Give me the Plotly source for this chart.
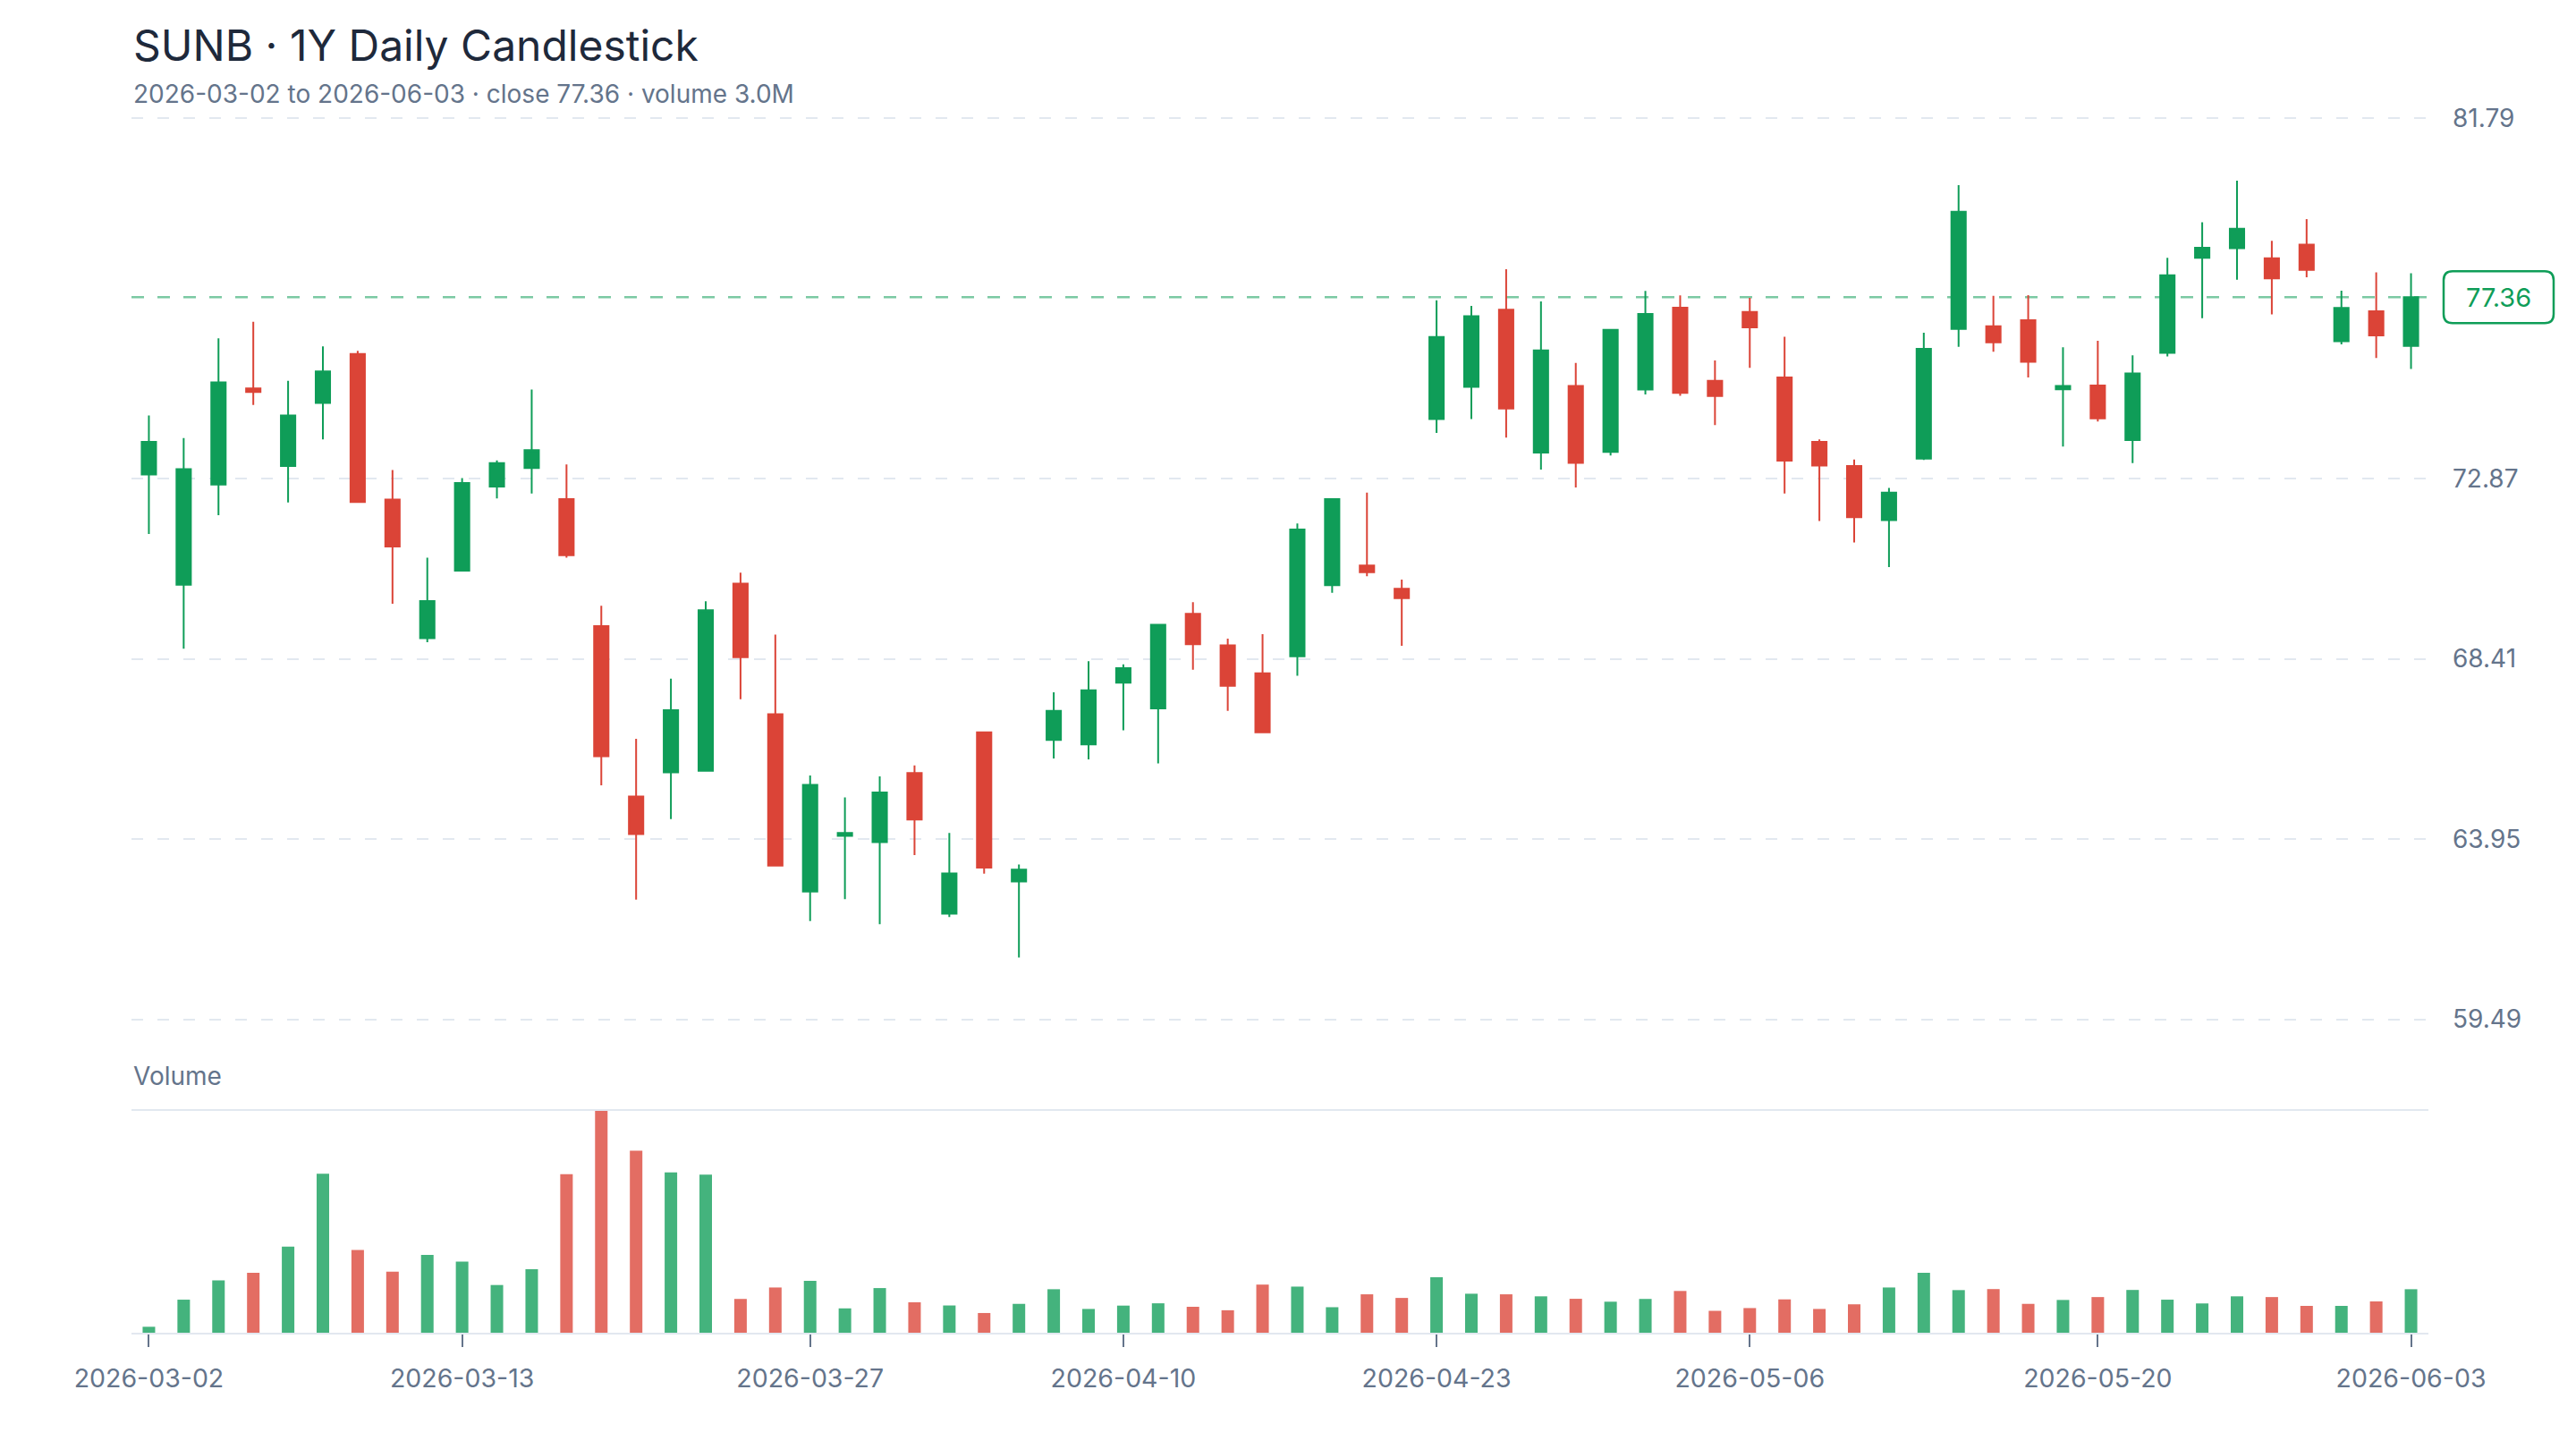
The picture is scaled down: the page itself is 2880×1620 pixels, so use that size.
import plotly.graph_objects as go

# ---------------- data ----------------
dates = [
    "2026-03-02", "2026-03-03", "2026-03-04", "2026-03-05", "2026-03-06",
    "2026-03-09", "2026-03-10", "2026-03-11", "2026-03-12", "2026-03-13",
    "2026-03-16", "2026-03-17", "2026-03-18", "2026-03-19", "2026-03-20",
    "2026-03-23", "2026-03-24", "2026-03-25", "2026-03-26", "2026-03-27",
    "2026-03-30", "2026-03-31", "2026-04-01", "2026-04-02",
    "2026-04-06", "2026-04-07", "2026-04-08", "2026-04-09", "2026-04-10",
    "2026-04-13", "2026-04-14", "2026-04-15", "2026-04-16", "2026-04-17",
    "2026-04-20", "2026-04-21", "2026-04-22", "2026-04-23", "2026-04-24",
    "2026-04-27", "2026-04-28", "2026-04-29", "2026-04-30", "2026-05-01",
    "2026-05-04", "2026-05-05", "2026-05-06", "2026-05-07", "2026-05-08",
    "2026-05-11", "2026-05-12", "2026-05-13", "2026-05-14", "2026-05-15",
    "2026-05-18", "2026-05-19", "2026-05-20", "2026-05-21", "2026-05-22",
    "2026-05-26", "2026-05-27", "2026-05-28", "2026-05-29",
    "2026-06-01", "2026-06-02", "2026-06-03",
]

opens = [
    72.97, 70.24, 72.72, 75.10, 73.18, 74.74, 75.95, 72.35, 68.92, 70.59,
    72.67, 73.13, 72.36, 69.22, 65.00, 65.60, 65.64, 70.27, 67.04, 62.65,
    64.03, 63.87, 65.58, 62.10, 66.59, 62.90, 66.40, 66.29, 67.82, 67.18,
    69.52, 68.74, 68.05, 68.47, 70.23, 70.72, 70.14, 74.34, 75.14, 77.05,
    73.51, 75.16, 73.53, 75.07, 77.10, 75.29, 76.99, 75.37, 73.78, 73.18,
    71.84, 73.36, 76.57, 76.64, 76.79, 75.08, 75.17, 73.82, 75.98, 78.33,
    78.57, 78.32, 78.66, 76.27, 77.01, 76.15,
]
highs = [
    74.43, 73.87, 76.34, 76.75, 75.29, 76.14, 76.03, 73.08, 70.91, 72.88,
    73.32, 75.07, 73.22, 69.72, 66.43, 67.92, 69.83, 70.54, 69.01, 65.52,
    64.98, 65.50, 65.77, 64.10, 66.60, 63.32, 67.58, 68.35, 68.27, 69.25,
    69.81, 68.91, 69.02, 71.76, 72.37, 72.52, 70.37, 77.28, 77.14, 78.05,
    77.25, 75.73, 76.57, 77.51, 77.40, 75.79, 77.34, 76.38, 73.84, 73.34,
    72.64, 76.48, 80.13, 77.39, 77.41, 76.12, 76.28, 75.92, 78.33, 79.21,
    80.24, 78.75, 79.29, 77.52, 77.97, 77.95,
]
lows = [
    71.50, 68.66, 71.96, 74.69, 72.28, 73.84, 72.27, 69.77, 68.82, 70.58,
    72.38, 72.50, 70.91, 65.28, 62.45, 64.44, 65.64, 67.41, 63.28, 61.92,
    62.46, 61.84, 63.55, 62.02, 63.09, 61.02, 65.94, 65.92, 66.64, 65.82,
    68.14, 67.12, 66.59, 67.99, 70.04, 70.45, 68.73, 74.00, 74.34, 73.88,
    73.09, 72.65, 73.44, 74.95, 74.92, 74.19, 75.61, 72.50, 71.82, 71.29,
    70.68, 73.33, 76.13, 76.01, 75.37, 73.66, 74.28, 73.25, 75.89, 76.84,
    77.79, 76.93, 77.85, 76.19, 75.85, 75.58,
]
closes = [
    73.78, 73.10, 75.25, 75.01, 74.43, 75.52, 72.29, 71.19, 69.84, 72.76,
    73.25, 73.57, 70.97, 66.00, 64.07, 67.14, 69.61, 68.45, 63.29, 65.29,
    64.10, 65.10, 64.43, 63.10, 63.24, 63.19, 67.12, 67.63, 68.18, 69.25,
    68.77, 67.74, 66.59, 71.61, 72.36, 70.55, 69.91, 76.37, 76.89, 74.60,
    76.04, 73.26, 76.55, 76.94, 74.99, 74.91, 76.61, 73.31, 73.19, 71.91,
    72.52, 76.08, 79.47, 76.24, 75.76, 75.16, 74.36, 75.47, 77.90, 78.58,
    79.05, 77.82, 78.03, 77.09, 76.41, 77.36,
]
volumes_m = [
    0.41, 2.28, 3.61, 4.13, 5.94, 10.97, 5.71, 4.21, 5.36, 4.91,
    3.29, 4.38, 10.94, 15.30, 12.55, 11.06, 10.91, 2.33, 3.12, 3.58,
    1.68, 3.08, 2.10, 1.88, 1.36, 1.99, 3.00, 1.64, 1.87, 2.03,
    1.79, 1.55, 3.32, 3.18, 1.76, 2.65, 2.40, 3.83, 2.69, 2.65,
    2.51, 2.34, 2.14, 2.33, 2.88, 1.51, 1.70, 2.30, 1.64, 1.96,
    3.12, 4.13, 2.94, 3.01, 1.99, 2.26, 2.46, 2.95, 2.28, 2.02,
    2.51, 2.46, 1.85, 1.85, 2.16, 3.00,
]

price_ticks = [59.49, 63.95, 68.41, 72.87, 81.79]
date_ticks = ["2026-03-02", "2026-03-13", "2026-03-27", "2026-04-10",
              "2026-04-23", "2026-05-06", "2026-05-20", "2026-06-03"]

ticker = "SUNB"
title_text = f"{ticker} · 1Y Daily Candlestick"
last_close = closes[-1]
subtitle_text = (f"{dates[0]} to {dates[-1]} · close {last_close:.2f} · "
                 f"volume {volumes_m[-1]:.1f}M")

# ---------------- style / geometry ----------------
GREEN = "#0f9d58"
RED = "#db4437"
GREEN_A = "rgba(15,157,88,0.78)"
RED_A = "rgba(219,68,55,0.78)"
GRID = "#e2e8f0"
SLATE = "#64748b"
INK = "#1e293b"
FONT = "Inter"

W, H = 2880, 1620
ML, MR, MT, MB = 147, 165, 118, 130
plot_w = W - ML - MR
plot_h = H - MT - MB

# pixel anchors of the first/last price tick (top of pane = MT)
top_tick_px, bot_tick_px = 132.0, 1139.5
price_bottom_px = 1152.0
px_per_unit = (bot_tick_px - top_tick_px) / (price_ticks[-1] - price_ticks[0])
price_range = [price_ticks[0] - (price_bottom_px - bot_tick_px) / px_per_unit,
               price_ticks[-1] + (top_tick_px - MT) / px_per_unit]

vol_top_px = 1242
price_dom0 = (H - MB - price_bottom_px) / plot_h
vol_dom1 = (H - MB - vol_top_px) / plot_h


def paper_y(px):
    return (H - MB - px) / plot_h


vol_colors = [GREEN_A if c >= o else RED_A for o, c in zip(opens, closes)]

fig = go.Figure()
fig.add_trace(go.Candlestick(
    x=dates, open=opens, high=highs, low=lows, close=closes,
    increasing=dict(line=dict(color=GREEN, width=2), fillcolor=GREEN),
    decreasing=dict(line=dict(color=RED, width=2), fillcolor=RED),
    whiskerwidth=0, xaxis="x", yaxis="y", showlegend=False,
))
fig.add_trace(go.Bar(
    x=dates, y=volumes_m, marker=dict(color=vol_colors, line=dict(width=0)),
    xaxis="x2", yaxis="y2", showlegend=False,
))

# last price dashed line
fig.add_shape(type="line", xref="x domain", yref="y", x0=0, x1=1,
              y0=last_close, y1=last_close,
              line=dict(color="rgba(15,157,88,0.55)", width=2.5, dash="14px,15px"),
              layer="below")

# rounded label box for last price
p_frac = (last_close - price_range[0]) / (price_range[1] - price_range[0])
yc = price_dom0 + p_frac * (1 - price_dom0)
bx0 = (2732 - ML) / plot_w
bx1 = (2855 - ML) / plot_w
hh = 29 / plot_h
by0, by1 = yc - hh, yc + hh
rx = 10 / plot_w
ry = 10 / plot_h
path = (f"M {bx0+rx},{by0} L {bx1-rx},{by0} Q {bx1},{by0} {bx1},{by0+ry} "
        f"L {bx1},{by1-ry} Q {bx1},{by1} {bx1-rx},{by1} "
        f"L {bx0+rx},{by1} Q {bx0},{by1} {bx0},{by1-ry} "
        f"L {bx0},{by0+ry} Q {bx0},{by0} {bx0+rx},{by0} Z")
fig.add_shape(type="path", xref="paper", yref="paper", path=path,
              fillcolor="white", line=dict(color=GREEN, width=2.5))
fig.add_annotation(xref="paper", yref="y", x=(bx0 + bx1) / 2, y=last_close,
                   text=f"{last_close:.2f}", showarrow=False,
                   xanchor="center", yanchor="middle",
                   font=dict(family=FONT, size=29, color=GREEN))

# title & subtitle & pane label
fig.add_annotation(xref="paper", yref="paper", x=0, xanchor="left",
                   y=paper_y(50), yanchor="middle",
                   text=title_text, showarrow=False,
                   font=dict(family=FONT, size=48, color=INK))
fig.add_annotation(xref="paper", yref="paper", x=0, xanchor="left",
                   y=paper_y(105), yanchor="middle",
                   text=subtitle_text, showarrow=False,
                   font=dict(family=FONT, size=28, color=SLATE))
fig.add_annotation(xref="paper", yref="paper", x=0, xanchor="left",
                   y=paper_y(1203), yanchor="middle",
                   text="Volume", showarrow=False,
                   font=dict(family=FONT, size=28, color=SLATE))

fig.update_layout(
    width=W, height=H,
    margin=dict(l=ML, r=MR, t=MT, b=MB, pad=0),
    paper_bgcolor="white", plot_bgcolor="white",
    font=dict(family=FONT, color=SLATE, size=28),
    boxgap=0.41, boxgroupgap=0.3,
    bargap=0.64,
    showlegend=False,
    hovermode=False,
    xaxis=dict(domain=[0, 1], anchor="y", type="category",
               categoryorder="array", categoryarray=dates,
               range=[-0.5, len(dates) - 0.5],
               showticklabels=False, showgrid=False, zeroline=False,
               showline=False, ticks="", rangeslider=dict(visible=False),
               matches="x2"),
    yaxis=dict(domain=[price_dom0, 1], anchor="x", side="right",
               range=price_range, tickvals=price_ticks,
               ticktext=[f"{v:.2f}" for v in price_ticks],
               showgrid=True, gridcolor=GRID, gridwidth=2,
               griddash="13px,16px", zeroline=False, showline=False,
               ticks="", ticklabelstandoff=26,
               tickfont=dict(family=FONT, size=28, color=SLATE)),
    xaxis2=dict(domain=[0, 1], anchor="y2", type="category",
                categoryorder="array", categoryarray=dates,
                range=[-0.5, len(dates) - 0.5],
                tickvals=date_ticks, ticktext=date_ticks,
                ticks="outside", ticklen=14, tickwidth=2, tickcolor=SLATE,
                ticklabelstandoff=11,
                showline=True, linecolor=GRID, linewidth=2, mirror=True,
                showgrid=False, zeroline=False,
                tickfont=dict(family=FONT, size=28.5, color=SLATE)),
    yaxis2=dict(domain=[0, vol_dom1], anchor="x2",
                range=[0, max(volumes_m)], showticklabels=False,
                showgrid=False, zeroline=False, showline=False, ticks=""),
)

fig.write_html("out.html")
